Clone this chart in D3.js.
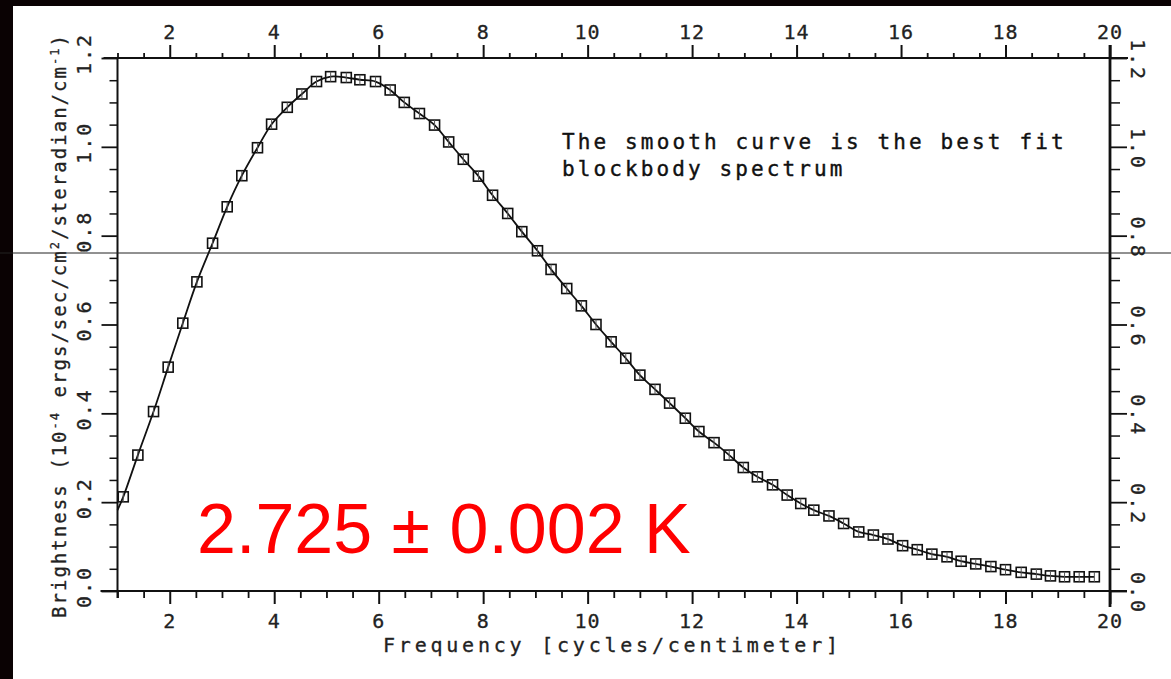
<!DOCTYPE html>
<html>
<head>
<meta charset="utf-8">
<script src="https://cdn.jsdelivr.net/npm/d3@7"></script>
<style>
  html, body { margin: 0; padding: 0; background: #fff; }
  svg { display: block; }
</style>
</head>
<body>
<div id="chart"></div>
<script>
// FIRAS spectrum points
var freq = [1.11, 1.39, 1.69, 1.97, 2.25, 2.52, 2.82, 3.10, 3.38, 3.68,
  3.95, 4.25, 4.53, 4.81, 5.08, 5.38, 5.64, 5.94, 6.22, 6.49,
  6.78, 7.07, 7.34, 7.62, 7.91, 8.18, 8.47, 8.74, 9.04, 9.30,
  9.60, 9.88, 10.16, 10.45, 10.73, 11.00, 11.29, 11.57, 11.87, 12.13,
  12.42, 12.71, 12.98, 13.25, 13.54, 13.82, 14.08, 14.33, 14.62, 14.90,
  15.19, 15.47, 15.75, 16.03, 16.31, 16.59, 16.88, 17.15, 17.43, 17.72,
  18.00, 18.30, 18.59, 18.86, 19.13, 19.41, 19.70];
var brightness = [0.212, 0.306, 0.404, 0.504, 0.603, 0.696, 0.783, 0.865, 0.935, 0.998,
  1.051, 1.089, 1.119, 1.147, 1.158, 1.156, 1.151, 1.147, 1.128, 1.100,
  1.075, 1.049, 1.011, 0.972, 0.934, 0.891, 0.850, 0.809, 0.766, 0.724,
  0.681, 0.642, 0.600, 0.561, 0.524, 0.486, 0.454, 0.423, 0.389, 0.359,
  0.334, 0.306, 0.278, 0.257, 0.239, 0.216, 0.197, 0.182, 0.169, 0.152,
  0.133, 0.126, 0.117, 0.102, 0.093, 0.083, 0.077, 0.067, 0.061, 0.055,
  0.048, 0.042, 0.038, 0.034, 0.032, 0.032, 0.032];
// where the fitted curve starts at the left edge
var curveStart = [1.0, 0.182];

var xMajor = [2, 4, 6, 8, 10, 12, 14, 16, 18, 20];
var yMajor = [0.0, 0.2, 0.4, 0.6, 0.8, 1.0, 1.2];

var note = ["The smooth curve is the best fit", "blockbody spectrum"];
var tempLabel = "2.725 \u00b1 0.002 K";

var W = 1171, H = 679;
var margin = { top: 58, right: 61, bottom: 88, left: 117.5 };
var plotFont = "'DejaVu Sans Mono', 'Liberation Mono', monospace";

var svg = d3.select("#chart").append("svg")
  .attr("width", W)
  .attr("height", H);

svg.append("rect").attr("width", W).attr("height", H).attr("fill", "#fff");
// black scan borders
svg.append("rect").attr("x", 0).attr("y", 0).attr("width", 13).attr("height", H).attr("fill", "#0a0203");
svg.append("rect").attr("x", 0).attr("y", 0).attr("width", W).attr("height", 6).attr("fill", "#0a0203");

var x = d3.scaleLinear().domain([1, 20]).range([margin.left, W - margin.right]);
var y = d3.scaleLinear().domain([0, 1.2]).range([H - margin.bottom, margin.top]);

var x0 = x(1), x1 = x(20), y0 = y(0), y1 = y(1.2);

// minor ticks every 0.5 / 0.05
var xMinor = d3.range(1, 20.001, 0.5).filter(function (v) { return v % 2 !== 0; });
var yMinor = d3.range(0, 24).map(function (i) { return i * 0.05; })
  .filter(function (v) { return Math.abs(v * 5 - Math.round(v * 5)) > 1e-6; });

function drawAxis(axis, tx, ty, w) {
  var g = svg.append("g")
    .attr("transform", "translate(" + tx + "," + ty + ")")
    .call(axis);
  g.select(".domain").remove();
  g.selectAll("line").attr("stroke", "#111").attr("stroke-width", w);
  g.selectAll("text").remove();
  return g;
}

drawAxis(d3.axisBottom(x).tickValues(xMajor).tickSize(13), 0, y0, 2);
drawAxis(d3.axisBottom(x).tickValues(xMinor).tickSize(7), 0, y0, 1.8);
drawAxis(d3.axisTop(x).tickValues(xMajor).tickSize(13), 0, y1, 2);
drawAxis(d3.axisTop(x).tickValues(xMinor).tickSize(5), 0, y1, 1.8);
drawAxis(d3.axisLeft(y).tickValues(yMajor).tickSize(16), x0, 0, 1.8);
drawAxis(d3.axisLeft(y).tickValues(yMinor).tickSize(8), x0, 0, 1.5);
drawAxis(d3.axisRight(y).tickValues(yMajor).tickSize(17), x1, 0, 1.8);
drawAxis(d3.axisRight(y).tickValues(yMinor).tickSize(10), x1, 0, 1.5);

// frame lines (the plotter lines run past the corners)
var frame = svg.append("g").attr("stroke", "#111").attr("fill", "none");
frame.append("line").attr("x1", x0 - 17).attr("x2", x1 + 17).attr("y1", y0).attr("y2", y0).attr("stroke-width", 2);
frame.append("line").attr("x1", x0 - 14).attr("x2", x1 + 18).attr("y1", y1).attr("y2", y1).attr("stroke-width", 2);
frame.append("line").attr("x1", x0).attr("x2", x0).attr("y1", y1).attr("y2", y0 + 7).attr("stroke-width", 2);
frame.append("line").attr("x1", x1).attr("x2", x1).attr("y1", y1 - 13).attr("y2", y0 + 16).attr("stroke-width", 2.8);

// stray scan line across the page
svg.append("line").attr("x1", 0).attr("x2", W).attr("y1", 253).attr("y2", 253)
  .attr("stroke", "#222").attr("stroke-width", 1);

// tick labels
var fmtY = d3.format(".1f");
var labels = svg.append("g").attr("font-family", plotFont).attr("font-size", 20)
  .attr("fill", "#222").attr("stroke", "#222").attr("stroke-width", 0.3);

labels.selectAll(".xb").data(xMajor).enter().append("text")
  .attr("x", function (d) { return x(d); }).attr("y", y0 + 37)
  .attr("text-anchor", "middle").attr("letter-spacing", 1)
  .text(function (d) { return d; });

labels.selectAll(".xt").data(xMajor).enter().append("text")
  .attr("x", function (d) { return x(d); }).attr("y", y1 - 19)
  .attr("text-anchor", "middle").attr("letter-spacing", 1)
  .text(function (d) { return d; });

labels.selectAll(".yl").data(yMajor).enter().append("text")
  .attr("transform", function (d) { return "translate(" + (x0 - 27) + "," + (y(d) - 4) + ") rotate(-90)"; })
  .attr("text-anchor", "middle").attr("letter-spacing", 2)
  .text(function (d) { return fmtY(d); });

labels.selectAll(".yr").data(yMajor).enter().append("text")
  .attr("transform", function (d) { return "translate(" + (x1 + 21) + "," + (y(d) + 2) + ") rotate(90)"; })
  .attr("text-anchor", "middle").attr("letter-spacing", 2)
  .text(function (d) { return fmtY(d); });

// axis titles
svg.append("text")
  .attr("x", 383).attr("y", y0 + 61)
  .attr("font-family", plotFont).attr("font-size", 20).attr("fill", "#222")
  .attr("stroke", "#222").attr("stroke-width", 0.3)
  .attr("textLength", 455).attr("lengthAdjust", "spacing")
  .text("Frequency [cycles/centimeter]");

var yTitle = svg.append("text")
  .attr("transform", "translate(66,618) rotate(-90)")
  .attr("font-family", plotFont).attr("font-size", 19).attr("fill", "#222")
  .attr("stroke", "#222").attr("stroke-width", 0.3)
  .attr("textLength", 583).attr("lengthAdjust", "spacing");
yTitle.append("tspan").text("Brightness (10");
yTitle.append("tspan").attr("dy", -7).attr("font-size", 12).text("-4");
yTitle.append("tspan").attr("dy", 7).text(" ergs/sec/cm");
yTitle.append("tspan").attr("dy", -7).attr("font-size", 12).text("2");
yTitle.append("tspan").attr("dy", 7).text("/steradian/cm");
yTitle.append("tspan").attr("dy", -7).attr("font-size", 12).text("-1");
yTitle.append("tspan").attr("dy", 7).text(")");

// note in the upper right
svg.append("g").selectAll("text").data(note).enter().append("text")
  .attr("x", 562).attr("y", function (d, i) { return 149 + i * 27; })
  .attr("font-family", plotFont).attr("font-size", 21).attr("fill", "#111")
  .attr("stroke", "#111").attr("stroke-width", 0.4)
  .attr("textLength", function (d) { return d.length * 15.8 - 4; })
  .attr("lengthAdjust", "spacing")
  .text(function (d) { return d; });

// fitted curve through the points
var pts = freq.map(function (f, i) { return [f, brightness[i]]; });
var curvePts = [curveStart].concat(pts);
var line = d3.line()
  .x(function (d) { return x(d[0]); })
  .y(function (d) { return y(d[1]); })
  .curve(d3.curveCatmullRom.alpha(0.5));

svg.append("path")
  .datum(curvePts)
  .attr("d", line)
  .attr("fill", "none")
  .attr("stroke", "#111")
  .attr("stroke-width", 1.8);

// square markers
var box = 10;
var marks = svg.append("g").selectAll("g").data(pts).enter().append("g")
  .attr("transform", function (d) { return "translate(" + x(d[0]) + "," + y(d[1]) + ")"; });
marks.append("rect")
  .attr("x", -box / 2).attr("y", -box / 2)
  .attr("width", box).attr("height", box)
  .attr("fill", "none").attr("stroke", "#111").attr("stroke-width", 1.6);
marks.append("line")
  .attr("x1", 0).attr("x2", 0).attr("y1", -box / 2).attr("y2", box / 2)
  .attr("stroke", "#555").attr("stroke-width", 1);

// temperature label
svg.append("text")
  .attr("x", 197).attr("y", 553)
  .attr("font-family", "'Liberation Sans', Arial, sans-serif")
  .attr("font-size", 70)
  .attr("fill", "#ff0000")
  .text(tempLabel);
</script>
</body>
</html>
